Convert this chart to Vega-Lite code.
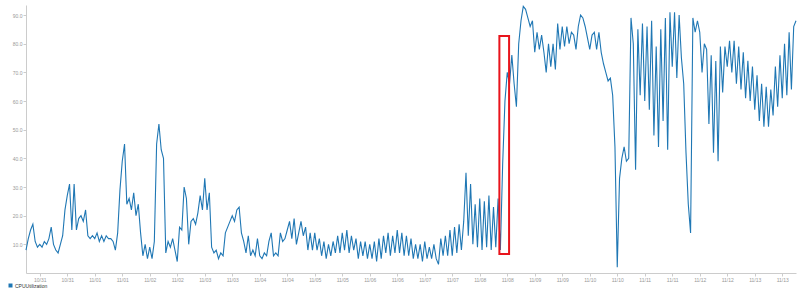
{
"width": 770, "height": 268,
"autosize": {"type": "none"},
"padding": {"left": 26, "top": 5, "right": 4, "bottom": 20},
"background": "white",
"config": {"view": {"stroke": null}},
"layer": [
{"data": {"values": [
{"t":"2017-10-30T18:00","v":8},{"t":"2017-10-30T19:00","v":12},{"t":"2017-10-30T20:00","v":15},{"t":"2017-10-30T21:00","v":17},{"t":"2017-10-30T22:00","v":11},{"t":"2017-10-30T23:00","v":9},
{"t":"2017-10-31T00:00","v":10},{"t":"2017-10-31T01:00","v":9},{"t":"2017-10-31T02:00","v":11},{"t":"2017-10-31T03:00","v":10},{"t":"2017-10-31T04:00","v":12},{"t":"2017-10-31T05:00","v":16},{"t":"2017-10-31T06:00","v":10},{"t":"2017-10-31T07:00","v":8},{"t":"2017-10-31T08:00","v":7},{"t":"2017-10-31T09:00","v":10},{"t":"2017-10-31T10:00","v":13},{"t":"2017-10-31T11:00","v":22},{"t":"2017-10-31T12:00","v":27},{"t":"2017-10-31T13:00","v":31},{"t":"2017-10-31T14:00","v":15},{"t":"2017-10-31T15:00","v":31},{"t":"2017-10-31T16:00","v":15},{"t":"2017-10-31T17:00","v":19},{"t":"2017-10-31T18:00","v":20},{"t":"2017-10-31T19:00","v":18},{"t":"2017-10-31T20:00","v":22},{"t":"2017-10-31T21:00","v":13},{"t":"2017-10-31T22:00","v":12},{"t":"2017-10-31T23:00","v":13},
{"t":"2017-11-01T00:00","v":12},{"t":"2017-11-01T01:00","v":14},{"t":"2017-11-01T02:00","v":11},{"t":"2017-11-01T03:00","v":13},{"t":"2017-11-01T04:00","v":11},{"t":"2017-11-01T05:00","v":13},{"t":"2017-11-01T06:00","v":12},{"t":"2017-11-01T07:00","v":12},{"t":"2017-11-01T08:00","v":11},{"t":"2017-11-01T09:00","v":8},{"t":"2017-11-01T10:00","v":14},{"t":"2017-11-01T11:00","v":29},{"t":"2017-11-01T12:00","v":39},{"t":"2017-11-01T13:00","v":45},{"t":"2017-11-01T14:00","v":24},{"t":"2017-11-01T15:00","v":26},{"t":"2017-11-01T16:00","v":22},{"t":"2017-11-01T17:00","v":28},{"t":"2017-11-01T18:00","v":20},{"t":"2017-11-01T19:00","v":24},{"t":"2017-11-01T20:00","v":14},{"t":"2017-11-01T21:00","v":6},{"t":"2017-11-01T22:00","v":10},{"t":"2017-11-01T23:00","v":5},
{"t":"2017-11-02T00:00","v":9},{"t":"2017-11-02T01:00","v":5},{"t":"2017-11-02T02:00","v":11},{"t":"2017-11-02T03:00","v":45},{"t":"2017-11-02T04:00","v":52},{"t":"2017-11-02T05:00","v":43},{"t":"2017-11-02T06:00","v":40},{"t":"2017-11-02T07:00","v":7},{"t":"2017-11-02T08:00","v":11},{"t":"2017-11-02T09:00","v":9},{"t":"2017-11-02T10:00","v":12},{"t":"2017-11-02T11:00","v":8},{"t":"2017-11-02T12:00","v":4},{"t":"2017-11-02T13:00","v":16},{"t":"2017-11-02T14:00","v":15},{"t":"2017-11-02T15:00","v":30},{"t":"2017-11-02T16:00","v":26},{"t":"2017-11-02T17:00","v":10},{"t":"2017-11-02T18:00","v":18},{"t":"2017-11-02T19:00","v":19},{"t":"2017-11-02T20:00","v":17},{"t":"2017-11-02T21:00","v":21},{"t":"2017-11-02T22:00","v":27},{"t":"2017-11-02T23:00","v":22},
{"t":"2017-11-03T00:00","v":33},{"t":"2017-11-03T01:00","v":22},{"t":"2017-11-03T02:00","v":28},{"t":"2017-11-03T03:00","v":9},{"t":"2017-11-03T04:00","v":7},{"t":"2017-11-03T05:00","v":8},{"t":"2017-11-03T06:00","v":5},{"t":"2017-11-03T07:00","v":7},{"t":"2017-11-03T08:00","v":6},{"t":"2017-11-03T09:00","v":14},{"t":"2017-11-03T10:00","v":16},{"t":"2017-11-03T11:00","v":18},{"t":"2017-11-03T12:00","v":20},{"t":"2017-11-03T13:00","v":18},{"t":"2017-11-03T14:00","v":22},{"t":"2017-11-03T15:00","v":23},{"t":"2017-11-03T16:00","v":14},{"t":"2017-11-03T17:00","v":11},{"t":"2017-11-03T18:00","v":7},{"t":"2017-11-03T19:00","v":13},{"t":"2017-11-03T20:00","v":6},{"t":"2017-11-03T21:00","v":8},{"t":"2017-11-03T22:00","v":6},{"t":"2017-11-03T23:00","v":12},
{"t":"2017-11-04T00:00","v":6},{"t":"2017-11-04T01:00","v":5},{"t":"2017-11-04T02:00","v":7},{"t":"2017-11-04T03:00","v":6},{"t":"2017-11-04T04:00","v":11},{"t":"2017-11-04T05:00","v":14},{"t":"2017-11-04T06:00","v":6},{"t":"2017-11-04T07:00","v":7},{"t":"2017-11-04T08:00","v":6},{"t":"2017-11-04T09:00","v":14},{"t":"2017-11-04T10:00","v":11},{"t":"2017-11-04T11:00","v":12},{"t":"2017-11-04T12:00","v":15},{"t":"2017-11-04T13:00","v":18},{"t":"2017-11-04T14:00","v":12},{"t":"2017-11-04T15:00","v":19},{"t":"2017-11-04T16:00","v":10},{"t":"2017-11-04T17:00","v":14},{"t":"2017-11-04T18:00","v":18},{"t":"2017-11-04T19:00","v":13},{"t":"2017-11-04T20:00","v":16},{"t":"2017-11-04T21:00","v":8},{"t":"2017-11-04T22:00","v":14},{"t":"2017-11-04T23:00","v":8},
{"t":"2017-11-05T00:00","v":14},{"t":"2017-11-05T01:00","v":8},{"t":"2017-11-05T02:00","v":12},{"t":"2017-11-05T03:00","v":6},{"t":"2017-11-05T04:00","v":11},{"t":"2017-11-05T05:00","v":5},{"t":"2017-11-05T06:00","v":10},{"t":"2017-11-05T07:00","v":6},{"t":"2017-11-05T08:00","v":11},{"t":"2017-11-05T09:00","v":7},{"t":"2017-11-05T10:00","v":13},{"t":"2017-11-05T11:00","v":7},{"t":"2017-11-05T12:00","v":14},{"t":"2017-11-05T13:00","v":8},{"t":"2017-11-05T14:00","v":15},{"t":"2017-11-05T15:00","v":7},{"t":"2017-11-05T16:00","v":13},{"t":"2017-11-05T17:00","v":8},{"t":"2017-11-05T18:00","v":12},{"t":"2017-11-05T19:00","v":5},{"t":"2017-11-05T20:00","v":11},{"t":"2017-11-05T21:00","v":6},{"t":"2017-11-05T22:00","v":11},{"t":"2017-11-05T23:00","v":5},
{"t":"2017-11-06T00:00","v":10},{"t":"2017-11-06T01:00","v":5},{"t":"2017-11-06T02:00","v":11},{"t":"2017-11-06T03:00","v":4},{"t":"2017-11-06T04:00","v":12},{"t":"2017-11-06T05:00","v":5},{"t":"2017-11-06T06:00","v":13},{"t":"2017-11-06T07:00","v":7},{"t":"2017-11-06T08:00","v":14},{"t":"2017-11-06T09:00","v":6},{"t":"2017-11-06T10:00","v":13},{"t":"2017-11-06T11:00","v":7},{"t":"2017-11-06T12:00","v":15},{"t":"2017-11-06T13:00","v":7},{"t":"2017-11-06T14:00","v":14},{"t":"2017-11-06T15:00","v":6},{"t":"2017-11-06T16:00","v":13},{"t":"2017-11-06T17:00","v":6},{"t":"2017-11-06T18:00","v":12},{"t":"2017-11-06T19:00","v":5},{"t":"2017-11-06T20:00","v":10},{"t":"2017-11-06T21:00","v":5},{"t":"2017-11-06T22:00","v":10},{"t":"2017-11-06T23:00","v":4},
{"t":"2017-11-07T00:00","v":11},{"t":"2017-11-07T01:00","v":5},{"t":"2017-11-07T02:00","v":9},{"t":"2017-11-07T03:00","v":5},{"t":"2017-11-07T04:00","v":10},{"t":"2017-11-07T05:00","v":5},{"t":"2017-11-07T06:00","v":3},{"t":"2017-11-07T07:00","v":12},{"t":"2017-11-07T08:00","v":6},{"t":"2017-11-07T09:00","v":13},{"t":"2017-11-07T10:00","v":6},{"t":"2017-11-07T11:00","v":15},{"t":"2017-11-07T12:00","v":6},{"t":"2017-11-07T13:00","v":16},{"t":"2017-11-07T14:00","v":7},{"t":"2017-11-07T15:00","v":17},{"t":"2017-11-07T16:00","v":8},{"t":"2017-11-07T17:00","v":18},{"t":"2017-11-07T18:00","v":35},{"t":"2017-11-07T19:00","v":13},{"t":"2017-11-07T20:00","v":31},{"t":"2017-11-07T21:00","v":10},{"t":"2017-11-07T22:00","v":24},{"t":"2017-11-07T23:00","v":9},
{"t":"2017-11-08T00:00","v":26},{"t":"2017-11-08T01:00","v":8},{"t":"2017-11-08T02:00","v":25},{"t":"2017-11-08T03:00","v":9},{"t":"2017-11-08T04:00","v":27},{"t":"2017-11-08T05:00","v":8},{"t":"2017-11-08T06:00","v":23},{"t":"2017-11-08T07:00","v":9},{"t":"2017-11-08T08:00","v":26},{"t":"2017-11-08T09:00","v":8},{"t":"2017-11-08T10:00","v":38},{"t":"2017-11-08T11:00","v":60},{"t":"2017-11-08T12:00","v":70},{"t":"2017-11-08T13:00","v":66},{"t":"2017-11-08T14:00","v":76},{"t":"2017-11-08T15:00","v":66},{"t":"2017-11-08T16:00","v":58},{"t":"2017-11-08T17:00","v":80},{"t":"2017-11-08T18:00","v":88},{"t":"2017-11-08T19:00","v":93},{"t":"2017-11-08T20:00","v":92},{"t":"2017-11-08T21:00","v":89},{"t":"2017-11-08T22:00","v":86},{"t":"2017-11-08T23:00","v":88},
{"t":"2017-11-09T00:00","v":77},{"t":"2017-11-09T01:00","v":84},{"t":"2017-11-09T02:00","v":78},{"t":"2017-11-09T03:00","v":83},{"t":"2017-11-09T04:00","v":77},{"t":"2017-11-09T05:00","v":70},{"t":"2017-11-09T06:00","v":80},{"t":"2017-11-09T07:00","v":72},{"t":"2017-11-09T08:00","v":80},{"t":"2017-11-09T09:00","v":71},{"t":"2017-11-09T10:00","v":87},{"t":"2017-11-09T11:00","v":78},{"t":"2017-11-09T12:00","v":86},{"t":"2017-11-09T13:00","v":79},{"t":"2017-11-09T14:00","v":86},{"t":"2017-11-09T15:00","v":80},{"t":"2017-11-09T16:00","v":84},{"t":"2017-11-09T17:00","v":83},{"t":"2017-11-09T18:00","v":78},{"t":"2017-11-09T19:00","v":86},{"t":"2017-11-09T20:00","v":90},{"t":"2017-11-09T21:00","v":89},{"t":"2017-11-09T22:00","v":86},{"t":"2017-11-09T23:00","v":82},
{"t":"2017-11-10T00:00","v":78},{"t":"2017-11-10T01:00","v":83},{"t":"2017-11-10T02:00","v":84},{"t":"2017-11-10T03:00","v":78},{"t":"2017-11-10T04:00","v":84},{"t":"2017-11-10T05:00","v":77},{"t":"2017-11-10T06:00","v":73},{"t":"2017-11-10T07:00","v":70},{"t":"2017-11-10T08:00","v":67},{"t":"2017-11-10T09:00","v":68},{"t":"2017-11-10T10:00","v":62},{"t":"2017-11-10T11:00","v":44},{"t":"2017-11-10T12:00","v":2},{"t":"2017-11-10T13:00","v":33},{"t":"2017-11-10T14:00","v":40},{"t":"2017-11-10T15:00","v":44},{"t":"2017-11-10T16:00","v":39},{"t":"2017-11-10T17:00","v":40},{"t":"2017-11-10T18:00","v":89},{"t":"2017-11-10T19:00","v":80},{"t":"2017-11-10T20:00","v":36},{"t":"2017-11-10T21:00","v":85},{"t":"2017-11-10T22:00","v":62},{"t":"2017-11-10T23:00","v":87},
{"t":"2017-11-11T00:00","v":60},{"t":"2017-11-11T01:00","v":86},{"t":"2017-11-11T02:00","v":57},{"t":"2017-11-11T03:00","v":88},{"t":"2017-11-11T04:00","v":48},{"t":"2017-11-11T05:00","v":79},{"t":"2017-11-11T06:00","v":44},{"t":"2017-11-11T07:00","v":85},{"t":"2017-11-11T08:00","v":53},{"t":"2017-11-11T09:00","v":89},{"t":"2017-11-11T10:00","v":43},{"t":"2017-11-11T11:00","v":91},{"t":"2017-11-11T12:00","v":72},{"t":"2017-11-11T13:00","v":91},{"t":"2017-11-11T14:00","v":68},{"t":"2017-11-11T15:00","v":90},{"t":"2017-11-11T16:00","v":75},{"t":"2017-11-11T17:00","v":66},{"t":"2017-11-11T18:00","v":42},{"t":"2017-11-11T19:00","v":24},{"t":"2017-11-11T20:00","v":14},{"t":"2017-11-11T21:00","v":89},{"t":"2017-11-11T22:00","v":84},{"t":"2017-11-11T23:00","v":88},
{"t":"2017-11-12T00:00","v":84},{"t":"2017-11-12T01:00","v":70},{"t":"2017-11-12T02:00","v":80},{"t":"2017-11-12T03:00","v":78},{"t":"2017-11-12T04:00","v":52},{"t":"2017-11-12T05:00","v":76},{"t":"2017-11-12T06:00","v":42},{"t":"2017-11-12T07:00","v":74},{"t":"2017-11-12T08:00","v":39},{"t":"2017-11-12T09:00","v":79},{"t":"2017-11-12T10:00","v":63},{"t":"2017-11-12T11:00","v":79},{"t":"2017-11-12T12:00","v":72},{"t":"2017-11-12T13:00","v":81},{"t":"2017-11-12T14:00","v":70},{"t":"2017-11-12T15:00","v":81},{"t":"2017-11-12T16:00","v":66},{"t":"2017-11-12T17:00","v":79},{"t":"2017-11-12T18:00","v":64},{"t":"2017-11-12T19:00","v":77},{"t":"2017-11-12T20:00","v":61},{"t":"2017-11-12T21:00","v":74},{"t":"2017-11-12T22:00","v":60},{"t":"2017-11-12T23:00","v":72},
{"t":"2017-11-13T00:00","v":57},{"t":"2017-11-13T01:00","v":69},{"t":"2017-11-13T02:00","v":53},{"t":"2017-11-13T03:00","v":66},{"t":"2017-11-13T04:00","v":51},{"t":"2017-11-13T05:00","v":65},{"t":"2017-11-13T06:00","v":51},{"t":"2017-11-13T07:00","v":64},{"t":"2017-11-13T08:00","v":55},{"t":"2017-11-13T09:00","v":72},{"t":"2017-11-13T10:00","v":58},{"t":"2017-11-13T11:00","v":76},{"t":"2017-11-13T12:00","v":61},{"t":"2017-11-13T13:00","v":80},{"t":"2017-11-13T14:00","v":62},{"t":"2017-11-13T15:00","v":84},{"t":"2017-11-13T16:00","v":64},{"t":"2017-11-13T17:00","v":86},{"t":"2017-11-13T18:00","v":88}
]},
"mark": {"type": "line", "strokeWidth": 1.1},
"encoding": {
"x": {"field": "t", "type": "temporal", "scale": {"nice": false},
 "axis": {"title": null, "format": "%m/%d", "labelFontSize": 5, "labelColor": "#999999", "domainColor": "#cccccc", "tickColor": "#cccccc", "tickSize": 3, "labelPadding": 1, "grid": false, "labelFlush": false, "labelOverlap": false, "labelBound": false,
  "values": [
   {"year":2017,"month":10,"date":31,"hours":0},{"year":2017,"month":10,"date":31,"hours":12},
   {"year":2017,"month":11,"date":1,"hours":0},{"year":2017,"month":11,"date":1,"hours":12},
   {"year":2017,"month":11,"date":2,"hours":0},{"year":2017,"month":11,"date":2,"hours":12},
   {"year":2017,"month":11,"date":3,"hours":0},{"year":2017,"month":11,"date":3,"hours":12},
   {"year":2017,"month":11,"date":4,"hours":0},{"year":2017,"month":11,"date":4,"hours":12},
   {"year":2017,"month":11,"date":5,"hours":0},{"year":2017,"month":11,"date":5,"hours":12},
   {"year":2017,"month":11,"date":6,"hours":0},{"year":2017,"month":11,"date":6,"hours":12},
   {"year":2017,"month":11,"date":7,"hours":0},{"year":2017,"month":11,"date":7,"hours":12},
   {"year":2017,"month":11,"date":8,"hours":0},{"year":2017,"month":11,"date":8,"hours":12},
   {"year":2017,"month":11,"date":9,"hours":0},{"year":2017,"month":11,"date":9,"hours":12},
   {"year":2017,"month":11,"date":10,"hours":0},{"year":2017,"month":11,"date":10,"hours":12},
   {"year":2017,"month":11,"date":11,"hours":0},{"year":2017,"month":11,"date":11,"hours":12},
   {"year":2017,"month":11,"date":12,"hours":0},{"year":2017,"month":11,"date":12,"hours":12},
   {"year":2017,"month":11,"date":13,"hours":0},{"year":2017,"month":11,"date":13,"hours":12}
  ]}},
"y": {"field": "v", "type": "quantitative", "scale": {"domain": [0, 93.5], "nice": false},
 "axis": {"title": null, "values": [10,20,30,40,50,60,70,80,90], "format": ".1f", "labelFontSize": 5, "labelColor": "#999999", "domainColor": "#cccccc", "tickColor": "#cccccc", "tickSize": 3, "labelPadding": 1, "grid": false, "labelOverlap": false, "labelBound": false}},
"color": {"datum": "CPUUtilization", "scale": {"range": ["#1f77b4"]},
 "legend": {"title": null, "orient": "none", "legendX": -18, "legendY": 278, "symbolType": "square", "symbolSize": 16, "symbolFillColor": "#1f77b4", "symbolStrokeWidth": 0, "labelFontSize": 5, "labelColor": "#333333", "labelOffset": 2, "padding": 0}}
}},
{"data": {"values": [{"t": "2017-11-08T08:34", "t2": "2017-11-08T12:48", "v": 6.6, "v2": 82.7}]},
"mark": {"type": "rect", "filled": false, "stroke": "#e8141c", "strokeWidth": 2},
"encoding": {
"x": {"field": "t", "type": "temporal", "scale": {"nice": false},
 "axis": {"title": null, "format": "%m/%d", "labelFontSize": 5, "labelColor": "#999999", "domainColor": "#cccccc", "tickColor": "#cccccc", "tickSize": 3, "labelPadding": 1, "grid": false, "labelFlush": false, "labelOverlap": false, "labelBound": false,
  "values": [
   {"year":2017,"month":10,"date":31,"hours":0},{"year":2017,"month":10,"date":31,"hours":12},
   {"year":2017,"month":11,"date":1,"hours":0},{"year":2017,"month":11,"date":1,"hours":12},
   {"year":2017,"month":11,"date":2,"hours":0},{"year":2017,"month":11,"date":2,"hours":12},
   {"year":2017,"month":11,"date":3,"hours":0},{"year":2017,"month":11,"date":3,"hours":12},
   {"year":2017,"month":11,"date":4,"hours":0},{"year":2017,"month":11,"date":4,"hours":12},
   {"year":2017,"month":11,"date":5,"hours":0},{"year":2017,"month":11,"date":5,"hours":12},
   {"year":2017,"month":11,"date":6,"hours":0},{"year":2017,"month":11,"date":6,"hours":12},
   {"year":2017,"month":11,"date":7,"hours":0},{"year":2017,"month":11,"date":7,"hours":12},
   {"year":2017,"month":11,"date":8,"hours":0},{"year":2017,"month":11,"date":8,"hours":12},
   {"year":2017,"month":11,"date":9,"hours":0},{"year":2017,"month":11,"date":9,"hours":12},
   {"year":2017,"month":11,"date":10,"hours":0},{"year":2017,"month":11,"date":10,"hours":12},
   {"year":2017,"month":11,"date":11,"hours":0},{"year":2017,"month":11,"date":11,"hours":12},
   {"year":2017,"month":11,"date":12,"hours":0},{"year":2017,"month":11,"date":12,"hours":12},
   {"year":2017,"month":11,"date":13,"hours":0},{"year":2017,"month":11,"date":13,"hours":12}
  ]}},
"x2": {"field": "t2"},
"y": {"field": "v", "type": "quantitative", "scale": {"domain": [0, 93.5], "nice": false},
 "axis": {"title": null, "values": [10,20,30,40,50,60,70,80,90], "format": ".1f", "labelFontSize": 5, "labelColor": "#999999", "domainColor": "#cccccc", "tickColor": "#cccccc", "tickSize": 3, "labelPadding": 1, "grid": false, "labelOverlap": false, "labelBound": false}},
"y2": {"field": "v2"}
}}
]
}
